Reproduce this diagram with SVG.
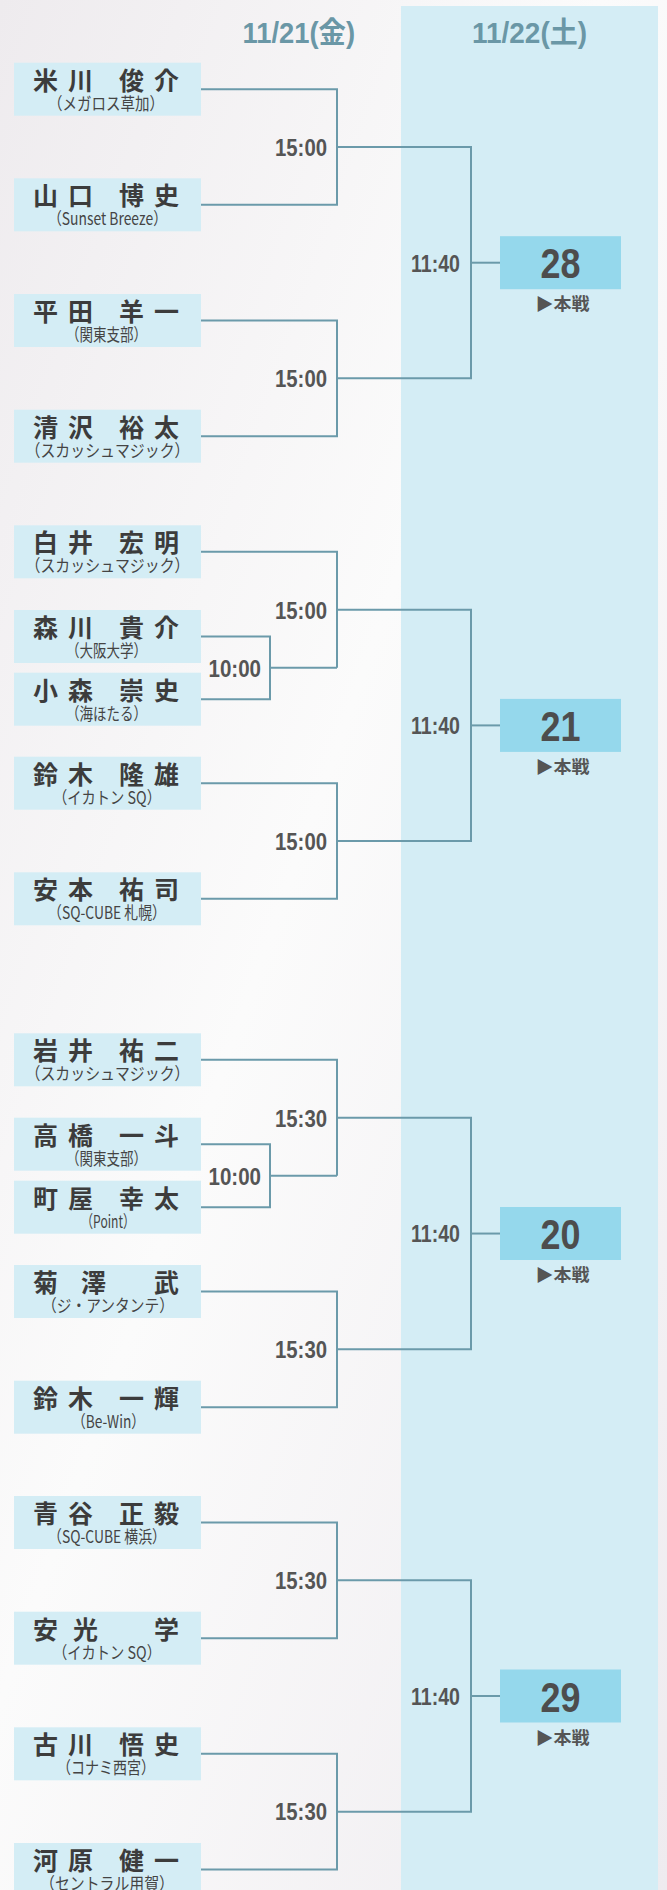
<svg xmlns="http://www.w3.org/2000/svg" width="667" height="1890" viewBox="0 0 667 1890">
<defs>
<linearGradient id="bg" x1="0" y1="0" x2="1" y2="1" gradientUnits="objectBoundingBox">
<stop offset="0" stop-color="#eeebee"/>
<stop offset="0.45" stop-color="#fbfbfb"/>
<stop offset="1" stop-color="#eeebef"/>
</linearGradient>
<style>
.nb{fill:#d4edf5}
.name{font-family:"Noto Sans CJK JP","Noto Sans",sans-serif;font-weight:700;font-size:25px;fill:#3c3c3c}
.sub{font-family:"Noto Sans CJK JP","Noto Sans",sans-serif;font-size:17px;fill:#444;text-anchor:middle}
.time{font-family:"Liberation Sans","Noto Sans CJK JP",sans-serif;font-weight:700;font-size:24.5px;fill:#555}
.hdr{font-family:"Liberation Sans","Noto Sans CJK JP",sans-serif;font-weight:700;font-size:29px;fill:#6a97a6}
.num{font-family:"Liberation Sans",sans-serif;font-weight:700;font-size:43px;fill:#4d4d4d}
.mb{fill:#95d8ec}
.main{font-family:"Noto Sans CJK JP",sans-serif;font-weight:700;font-size:17px;fill:#555}
.ln{fill:none;stroke:#6b9aaa;stroke-width:2}
</style>
</defs>
<rect x="0" y="0" width="667" height="1890" fill="url(#bg)"/>
<rect x="401" y="6" width="257" height="1884" fill="#d4edf5"/>
<text class="hdr" x="242.5" y="42.7" textLength="112.5" lengthAdjust="spacingAndGlyphs">11/21(金)</text>
<text class="hdr" x="472" y="42.7" textLength="115" lengthAdjust="spacingAndGlyphs">11/22(土)</text>

<g id="connectors" class="ln">
<path d="M201 89.2H337V204.8H201"/>
<path d="M201 320.5H337V436.2H201"/>
<path d="M337 147H471V378.35H337"/>
<path d="M471 262.7H500"/>
<path d="M201 636.5H270V699.2H201"/>
<path d="M270 667.85H337"/>
<path d="M201 551.8H337V667.85"/>
<path d="M201 783.2H337V898.8H201"/>
<path d="M337 609.8H471V841H337"/>
<path d="M471 725.4H500"/>
<path d="M201 1144.2H270V1207.2H201"/>
<path d="M270 1175.7H337"/>
<path d="M201 1059.8H337V1175.7"/>
<path d="M201 1291.5H337V1407.2H201"/>
<path d="M337 1117.75H471V1349.35H337"/>
<path d="M471 1233.55H500"/>
<path d="M201 1522.5H337V1638.2H201"/>
<path d="M201 1753.8H337V1869.5H201"/>
<path d="M337 1580.35H471V1811.65H337"/>
<path d="M471 1696H500"/>
</g>

<g id="times">
<text class="time" x="275" y="155.8" textLength="52" lengthAdjust="spacingAndGlyphs">15:00</text>
<text class="time" x="275" y="387.15" textLength="52" lengthAdjust="spacingAndGlyphs">15:00</text>
<text class="time" x="411" y="271.5" textLength="49" lengthAdjust="spacingAndGlyphs">11:40</text>
<text class="time" x="275" y="618.6" textLength="52" lengthAdjust="spacingAndGlyphs">15:00</text>
<text class="time" x="208.5" y="676.65" textLength="52.5" lengthAdjust="spacingAndGlyphs">10:00</text>
<text class="time" x="275" y="849.8" textLength="52" lengthAdjust="spacingAndGlyphs">15:00</text>
<text class="time" x="411" y="734.2" textLength="49" lengthAdjust="spacingAndGlyphs">11:40</text>
<text class="time" x="275" y="1126.55" textLength="52" lengthAdjust="spacingAndGlyphs">15:30</text>
<text class="time" x="208.5" y="1184.5" textLength="52.5" lengthAdjust="spacingAndGlyphs">10:00</text>
<text class="time" x="275" y="1358.15" textLength="52" lengthAdjust="spacingAndGlyphs">15:30</text>
<text class="time" x="411" y="1242.35" textLength="49" lengthAdjust="spacingAndGlyphs">11:40</text>
<text class="time" x="275" y="1589.15" textLength="52" lengthAdjust="spacingAndGlyphs">15:30</text>
<text class="time" x="275" y="1820.45" textLength="52" lengthAdjust="spacingAndGlyphs">15:30</text>
<text class="time" x="411" y="1704.8" textLength="49" lengthAdjust="spacingAndGlyphs">11:40</text>
</g>

<g id="p1"><rect class="nb" x="14" y="62.7" width="187" height="53"/><text class="name" x="33 68 100 119 154" y="89.6">米川 俊介</text><text class="sub" x="106" y="109.5" textLength="116" lengthAdjust="spacingAndGlyphs">（メガロス草加）</text></g>
<g id="p2"><rect class="nb" x="14" y="178.3" width="187" height="53"/><text class="name" x="33 68 100 119 154" y="205.2">山口 博史</text><text class="sub" x="107.5" y="225.1" textLength="119" lengthAdjust="spacingAndGlyphs">（Sunset Breeze）</text></g>
<g id="p3"><rect class="nb" x="14" y="294" width="187" height="53"/><text class="name" x="33 68 100 119 154" y="320.9">平田 羊一</text><text class="sub" x="106.5" y="340.8" textLength="81" lengthAdjust="spacingAndGlyphs">（関東支部）</text></g>
<g id="p4"><rect class="nb" x="14" y="409.7" width="187" height="53"/><text class="name" x="33 68 100 119 154" y="436.6">清沢 裕太</text><text class="sub" x="107.5" y="456.5" textLength="164" lengthAdjust="spacingAndGlyphs">（スカッシュマジック）</text></g>
<g id="p5"><rect class="nb" x="14" y="525.3" width="187" height="53"/><text class="name" x="33 68 100 119 154" y="552.2">白井 宏明</text><text class="sub" x="107.5" y="572.1" textLength="164" lengthAdjust="spacingAndGlyphs">（スカッシュマジック）</text></g>
<g id="p6"><rect class="nb" x="14" y="610" width="187" height="53"/><text class="name" x="33 68 100 119 154" y="636.9">森川 貴介</text><text class="sub" x="106.5" y="656.8" textLength="81" lengthAdjust="spacingAndGlyphs">（大阪大学）</text></g>
<g id="p7"><rect class="nb" x="14" y="672.7" width="187" height="53"/><text class="name" x="33 68 100 119 154" y="699.6">小森 崇史</text><text class="sub" x="106.5" y="719.5" textLength="81" lengthAdjust="spacingAndGlyphs">（海ほたる）</text></g>
<g id="p8"><rect class="nb" x="14" y="756.7" width="187" height="53"/><text class="name" x="33 68 100 119 154" y="783.6">鈴木 隆雄</text><text class="sub" x="107" y="803.5" textLength="108" lengthAdjust="spacingAndGlyphs">（イカトン SQ）</text></g>
<g id="p9"><rect class="nb" x="14" y="872.3" width="187" height="53"/><text class="name" x="33 68 100 119 154" y="899.2">安本 祐司</text><text class="sub" x="107" y="919.1" textLength="118" lengthAdjust="spacingAndGlyphs">（SQ-CUBE 札幌）</text></g>
<g id="p10"><rect class="nb" x="14" y="1033.3" width="187" height="53"/><text class="name" x="33 68 100 119 154" y="1060.2">岩井 祐二</text><text class="sub" x="107.5" y="1080.1" textLength="164" lengthAdjust="spacingAndGlyphs">（スカッシュマジック）</text></g>
<g id="p11"><rect class="nb" x="14" y="1117.7" width="187" height="53"/><text class="name" x="33 68 100 119 154" y="1144.6">高橋 一斗</text><text class="sub" x="106.5" y="1164.5" textLength="81" lengthAdjust="spacingAndGlyphs">（関東支部）</text></g>
<g id="p12"><rect class="nb" x="14" y="1180.7" width="187" height="53"/><text class="name" x="33 68 100 119 154" y="1207.6">町屋 幸太</text><text class="sub" x="108" y="1227.5" textLength="54" lengthAdjust="spacingAndGlyphs">（Point）</text></g>
<g id="p13"><rect class="nb" x="14" y="1265" width="187" height="53"/><text class="name" x="33 81 120 154" y="1291.9">菊澤 武</text><text class="sub" x="108" y="1311.8" textLength="132" lengthAdjust="spacingAndGlyphs">（ジ・アンタンテ）</text></g>
<g id="p14"><rect class="nb" x="14" y="1380.7" width="187" height="53"/><text class="name" x="33 68 100 119 154" y="1407.6">鈴木 一輝</text><text class="sub" x="108.5" y="1427.5" textLength="73" lengthAdjust="spacingAndGlyphs">（Be-Win）</text></g>
<g id="p15"><rect class="nb" x="14" y="1496" width="187" height="53"/><text class="name" x="33 68 100 119 154" y="1522.9">青谷 正毅</text><text class="sub" x="107" y="1542.8" textLength="118" lengthAdjust="spacingAndGlyphs">（SQ-CUBE 横浜）</text></g>
<g id="p16"><rect class="nb" x="14" y="1611.7" width="187" height="53"/><text class="name" x="33 73 120 154" y="1638.6">安光 学</text><text class="sub" x="107" y="1658.5" textLength="108" lengthAdjust="spacingAndGlyphs">（イカトン SQ）</text></g>
<g id="p17"><rect class="nb" x="14" y="1727.3" width="187" height="53"/><text class="name" x="33 68 100 119 154" y="1754.2">古川 悟史</text><text class="sub" x="106" y="1774.1" textLength="98" lengthAdjust="spacingAndGlyphs">（コナミ西宮）</text></g>
<g id="p18"><rect class="nb" x="14" y="1843" width="187" height="53"/><text class="name" x="33 68 100 119 154" y="1869.9">河原 健一</text><text class="sub" x="107" y="1889.8" textLength="134" lengthAdjust="spacingAndGlyphs">（セントラル用賀）</text></g>

<g id="r28"><rect class="mb" x="500" y="236.2" width="121" height="53"/><text class="num" x="540.5" y="278.2" textLength="40" lengthAdjust="spacingAndGlyphs">28</text><text class="main" x="535.5" y="310.2" textLength="54" lengthAdjust="spacingAndGlyphs">▶本戦</text></g>
<g id="r21"><rect class="mb" x="500" y="698.9" width="121" height="53"/><text class="num" x="540.5" y="740.9" textLength="40" lengthAdjust="spacingAndGlyphs">21</text><text class="main" x="535.5" y="772.9" textLength="54" lengthAdjust="spacingAndGlyphs">▶本戦</text></g>
<g id="r20"><rect class="mb" x="500" y="1207" width="121" height="53"/><text class="num" x="540.5" y="1249" textLength="40" lengthAdjust="spacingAndGlyphs">20</text><text class="main" x="535.5" y="1281" textLength="54" lengthAdjust="spacingAndGlyphs">▶本戦</text></g>
<g id="r29"><rect class="mb" x="500" y="1669.5" width="121" height="53"/><text class="num" x="540.5" y="1711.5" textLength="40" lengthAdjust="spacingAndGlyphs">29</text><text class="main" x="535.5" y="1743.5" textLength="54" lengthAdjust="spacingAndGlyphs">▶本戦</text></g>
</svg>
